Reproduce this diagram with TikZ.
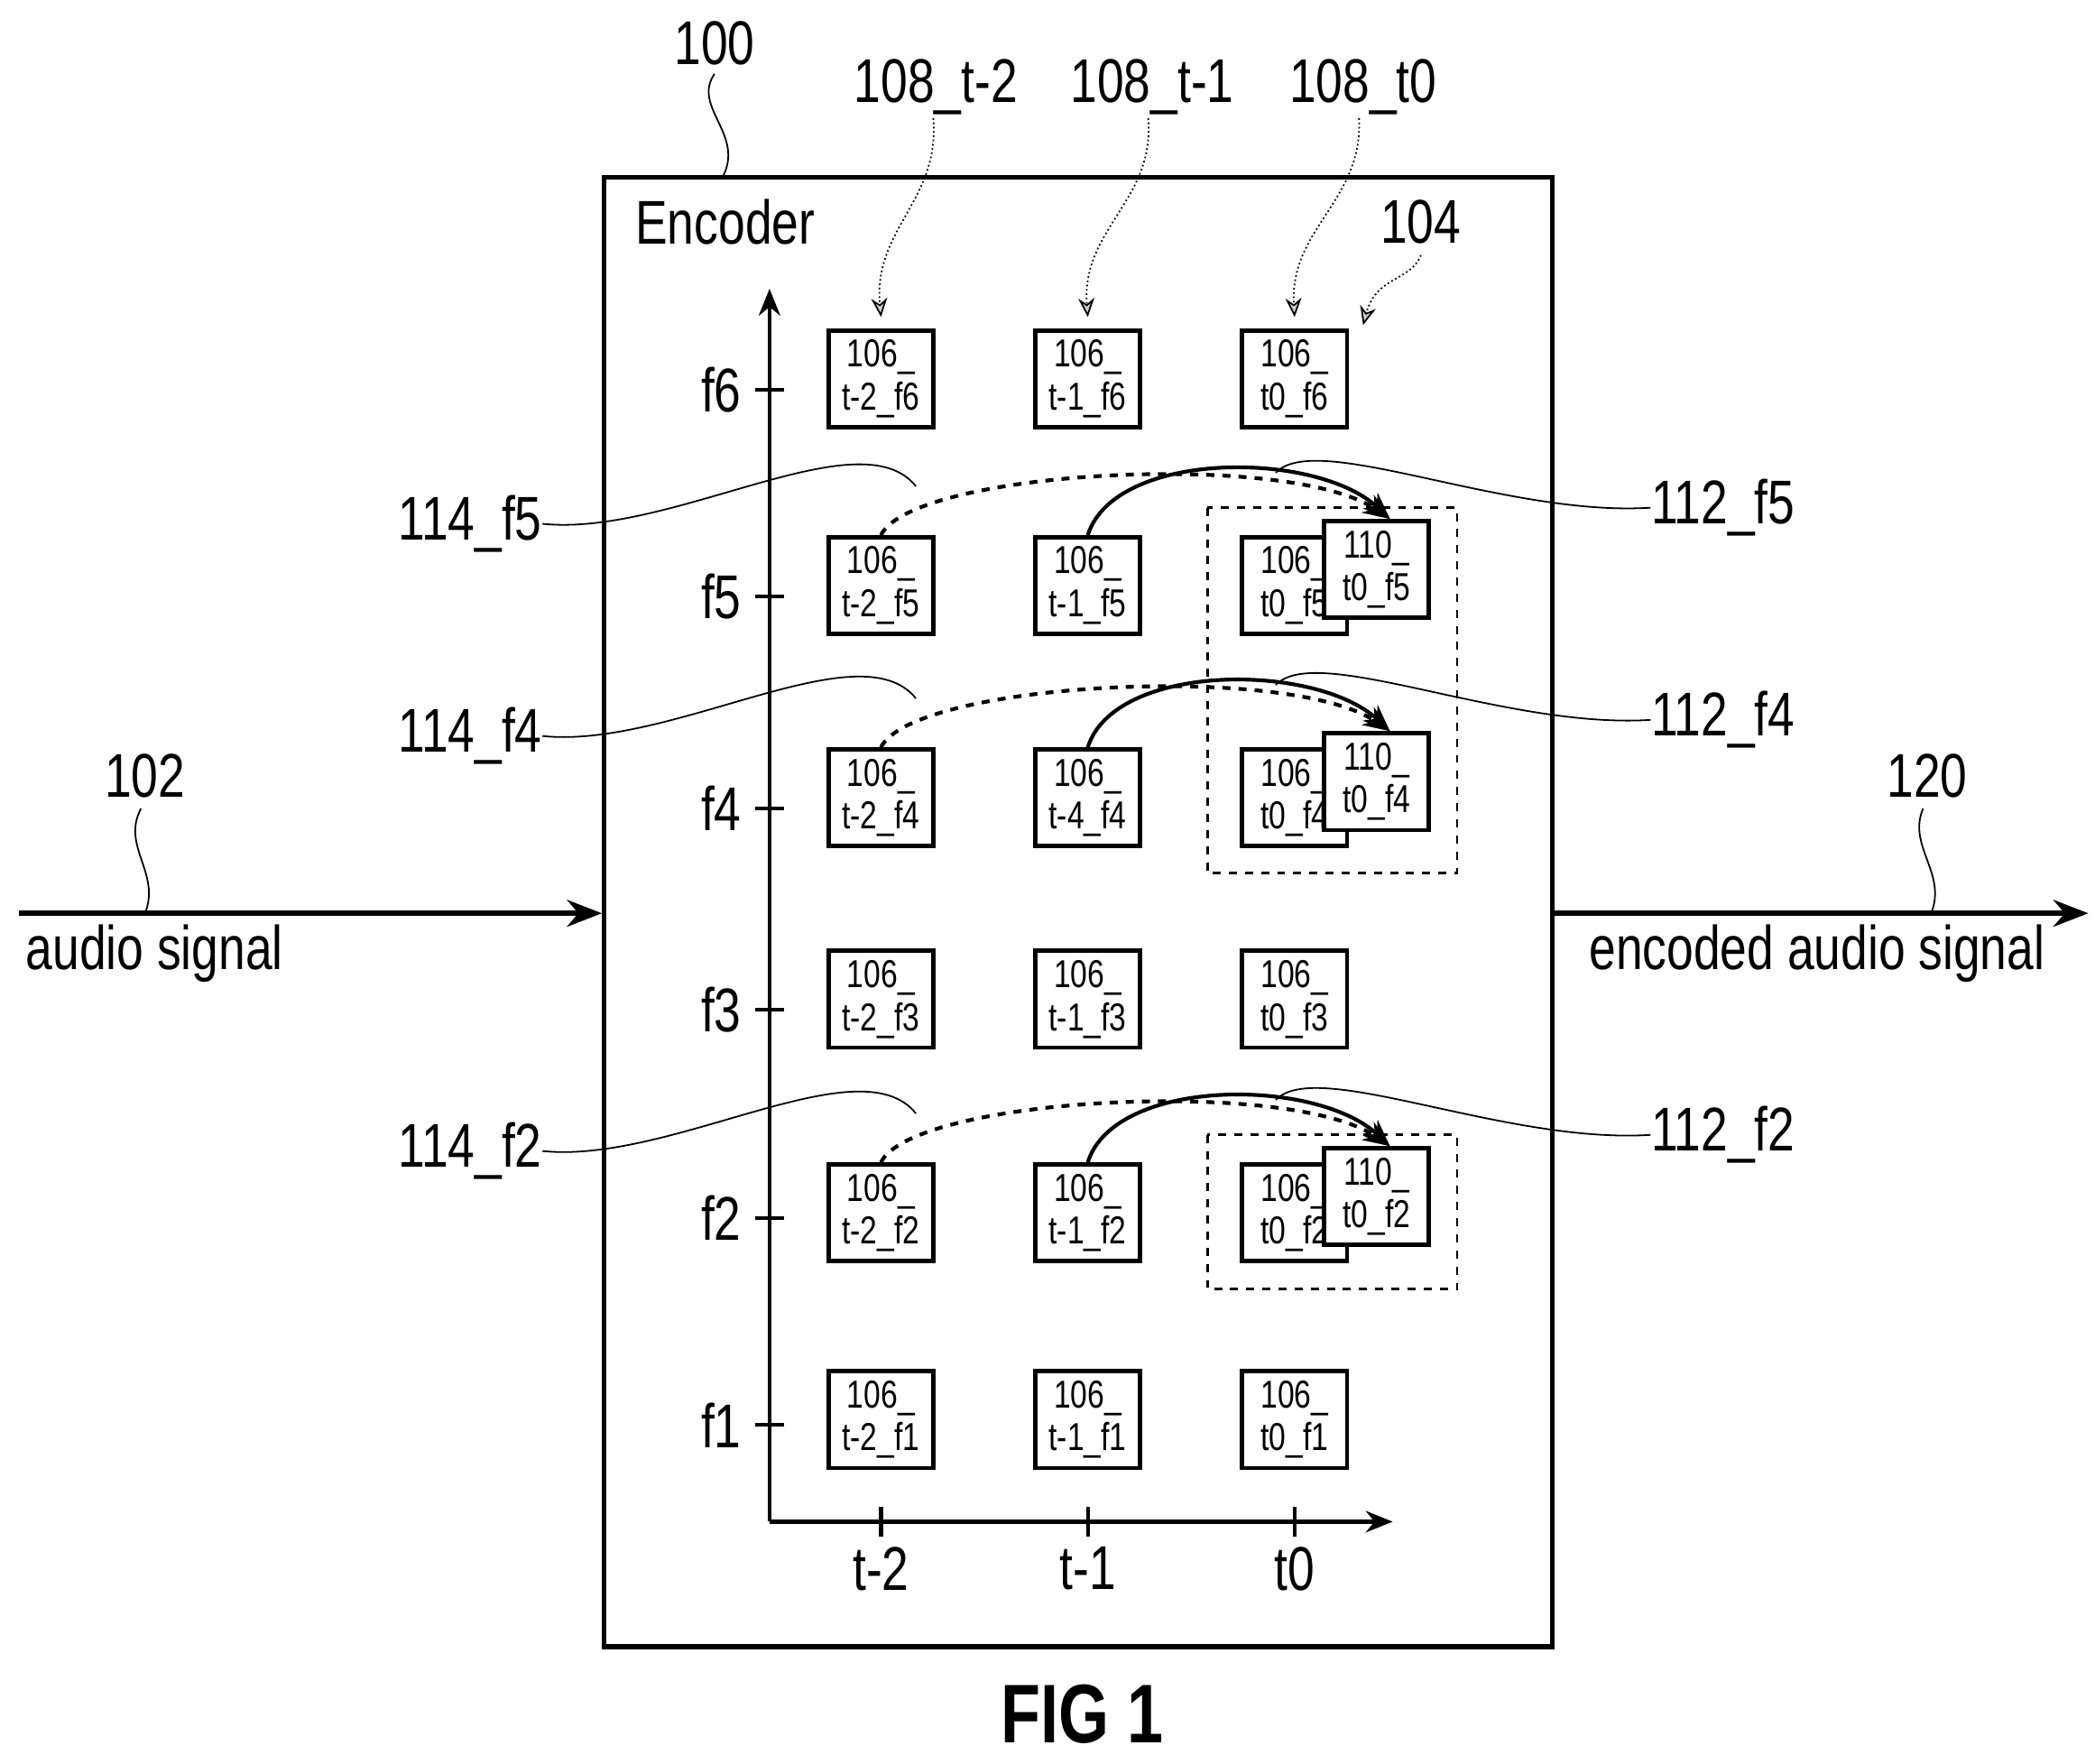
\documentclass[tikz,border=0pt]{standalone}
\usepackage{fontspec}
\setmainfont{Liberation Sans}[FakeStretch=0.78]
\usetikzlibrary{arrows.meta}
\begin{document}
\begin{tikzpicture}[x=0.5pt,y=-0.5pt,
  lbl/.style={font=\fontsize{23}{26}\selectfont, inner sep=0pt},
  cell/.style={draw, line width=1.6pt, minimum width=39pt, minimum height=36pt, fill=white, align=center, inner sep=0pt, font=\fontsize{14.5}{16}\selectfont},
  lead/.style={line width=0.6pt},
  pt/.style={-{Stealth[length=7pt,width=6pt,fill=gray!40]}, line width=0.6pt, densely dotted},
  bigarrow/.style={line width=1.8pt, -{Stealth[length=13pt,width=10pt]}},
  flow/.style={line width=1.4pt, -{Stealth[length=10pt,width=8pt]}}]
\useasboundingbox (0,0) rectangle (1560,1313);
\node[draw, line width=1.8pt, minimum width=353pt, minimum height=547pt, inner sep=0pt] (enc) at (803,679) {};
\node[lbl] (n100) at (532,32) {100};
\draw[lead] (532,55) .. controls (515,80) and (555,100) .. (538,132);
\node[lbl] (encl) at (540,165) {Encoder};
% axes
\coordinate (o) at (573,1133);
\coordinate (ytop) at (573,215);
\coordinate (xr) at (1037,1133);
\draw[line width=1.4pt,-{Stealth[length=10pt,width=8pt]}] (o) -- (ytop);
\draw[line width=1.4pt,-{Stealth[length=10pt,width=8pt]}] (o) -- (xr);
\foreach \f/\y in {f6/290,f5/444,f4/602,f3/752,f2/907,f1/1061}{
  \draw[line width=1.4pt] (562,\y) -- (584,\y);
  \node[lbl] (ax\f) at (537,\y) {\f};}
\foreach \t/\x in {t-2/656,t-1/810,t0/964}{
  \draw[line width=1.4pt] (\x,1122) -- (\x,1144);
  \node[lbl] (ax\t) at (\x,1168) {\t};}
% dashed groups
\draw[dashed, line width=1pt] (899,378) rectangle (1085,650);
\draw[dashed, line width=1pt] (899,845) rectangle (1085,960);
% cells
\foreach \r/\y in {f6/282,f5/436,f4/594,f3/744,f2/903,f1/1057}{
  \node[cell] (c2\r) at (656,\y) {106\_\\t-2\_\r};
  \node[cell] (c0\r) at (964,\y) {106\_\\t0\_\r};}
\foreach \r/\y in {f6/282,f5/436,f3/744,f2/903,f1/1057}{
  \node[cell] (c1\r) at (810,\y) {106\_\\t-1\_\r};}
\node[cell] (c1f4) at (810,594) {106\_\\t-4\_f4};
\foreach \r/\y in {f5/424,f4/582,f2/891}{
  \node[cell] (d\r) at (1025,\y) {110\_\\t0\_\r};}
% arcs
\foreach \r/\dy in {f5/0,f4/158,f2/467}{
  \draw[flow, dashed] (c2\r.north) .. controls (680,{350+\dy}) and (960,{335+\dy}) .. ([xshift=5pt]d\r.north);
  \draw[flow] (c1\r.north) .. controls (830,{335+\dy}) and (980,{335+\dy}) .. ([xshift=5pt]d\r.north);}
% leaders
\node[lbl] (l114f5) at (350,390) {114\_f5};
\node[lbl] (l114f4) at (350,548) {114\_f4};
\node[lbl] (l114f2) at (350,857) {114\_f2};
\node[lbl] (l112f5) at (1283,378) {112\_f5};
\node[lbl] (l112f4) at (1283,536) {112\_f4};
\node[lbl] (l112f2) at (1283,845) {112\_f2};
\foreach \r/\dy in {f5/0,f4/158,f2/467}{
  \draw[lead] (l114\r.east) .. controls (500,{400+\dy}) and (640,{310+\dy}) .. (682,{362+\dy});
  \draw[lead] (l112\r.west) .. controls (1120,{385+\dy}) and (980,{320+\dy}) .. (950,{352+\dy});}
% top labels
\node[lbl] (l108a) at (697,65) {108\_t-2};
\node[lbl] (l108b) at (858,65) {108\_t-1};
\node[lbl] (l108c) at (1015,65) {108\_t0};
\node[lbl] (l104) at (1058,165) {104};
\coordinate (pa) at (656,236);
\coordinate (pb) at (810,236);
\coordinate (pc) at (964,236);
\coordinate (pd) at (1015,242);
\draw[pt] (695,88) .. controls (700,150) and (650,170) .. (pa);
\draw[pt] (855,88) .. controls (860,150) and (805,170) .. (pb);
\draw[pt] (1012,88) .. controls (1015,150) and (960,170) .. (pc);
\draw[pt] (1058,190) .. controls (1050,210) and (1025,205) .. (pd);
% in/out
\coordinate (in) at (14,680);
\coordinate (out) at (1555,680);
\draw[bigarrow] (in) -- (enc.west |- in);
\draw[bigarrow] (enc.east |- out) -- (out);
\node[lbl] (as) at (115,710) {audio signal};
\node[lbl] (eas) at (1353,710) {encoded audio signal};
\node[lbl] (n102) at (108,578) {102};
\node[lbl] (n120) at (1435,578) {120};
\draw[lead] (105,602) .. controls (90,630) and (120,650) .. (108,680);
\draw[lead] (1432,602) .. controls (1420,630) and (1450,650) .. (1438,680);
\node[font=\bfseries\fontsize{31}{36}\selectfont, inner sep=0pt] (fig) at (806,1276) {FIG 1};
\end{tikzpicture}
\end{document}
